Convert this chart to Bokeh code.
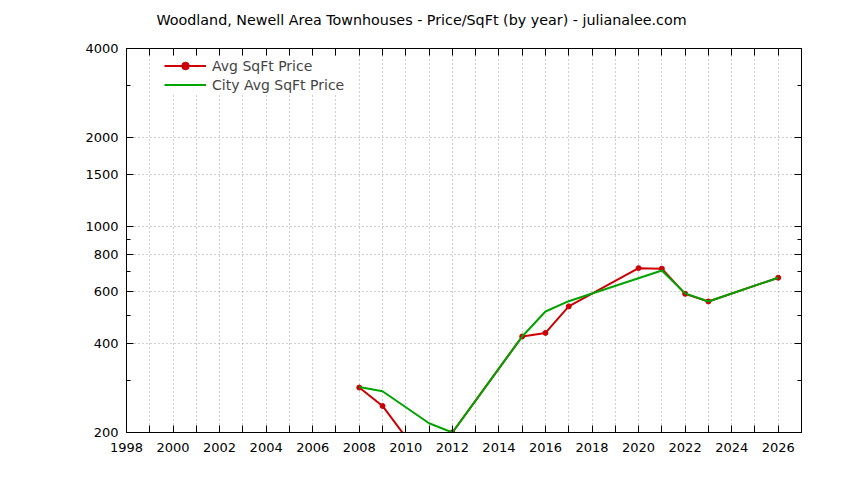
from bokeh.plotting import figure
from bokeh.models import (FixedTicker, PrintfTickFormatter, LinearAxis, LogAxis,
                          Legend, LegendItem, ColumnDataSource, CustomLabelingPolicy)
from bokeh.embed import file_html
from bokeh.resources import INLINE

# ---- data ----
title_text = "Woodland, Newell Area Townhouses - Price/SqFt (by year) - julianalee.com"
avg_years = [2008, 2009, 2010, 2012, 2015, 2016, 2017, 2020, 2021, 2022, 2023, 2026]
avg_price = [284, 246, 193, 200, 423, 435, 535, 721, 718, 590, 556, 669]
city_years = [2008, 2009, 2011, 2012, 2015, 2016, 2017, 2021, 2022, 2023, 2026]
city_price = [285, 276, 215, 200, 423, 514, 557, 708, 592, 556, 669]
x_major = list(range(1998, 2027, 2))
x_minor = list(range(1999, 2028, 2))
y_major = [200, 400, 600, 800, 1000, 1500, 2000, 4000]
y_minor = [300, 500, 700, 900, 3000]

FONT = "DejaVu Sans"
RED = "#cc0000"
GREEN = "#00a400"
GRID = "#a0a0a0"

p = figure(width=836, height=480, y_axis_type="log",
           x_range=(1998, 2027), y_range=(200, 4000),
           output_backend="svg", toolbar_location=None,
           min_border_left=126, min_border_right=35,
           min_border_top=56, min_border_bottom=40)
p.styles = {"margin-top": "-8px"}

p.title.text = title_text
p.title.text_font = FONT
p.title.text_font_size = "14.3px"
p.title.text_font_style = "normal"
p.title.text_color = "black"
p.title.align = "left"
p.title.offset = 30
p.title.standoff = 34

p.outline_line_color = "black"
p.outline_line_width = 1

hide_all = CustomLabelingPolicy(code="""
const n = indices.size;
for (let i = 0; i < n; i++) { indices.set(i, false) }
return indices
""")

def style_axis(ax, labels=True):
    ax.axis_line_color = "black"
    ax.major_tick_in = 7
    ax.major_tick_out = 0
    ax.minor_tick_in = 4
    ax.minor_tick_out = 0
    ax.major_tick_line_color = "black"
    ax.minor_tick_line_color = "black"
    ax.major_label_text_font = FONT
    ax.major_label_text_font_size = "13px" if labels else "1px"
    ax.major_label_text_color = "black"
    if not labels:
        ax.major_label_policy = hide_all
        ax.major_label_standoff = 0

xt = FixedTicker(ticks=x_major, minor_ticks=x_minor)
yt = FixedTicker(ticks=y_major, minor_ticks=y_minor)

p.xaxis.ticker = xt
p.yaxis.ticker = yt
p.yaxis.formatter = PrintfTickFormatter(format="%d")
for ax in p.xaxis:
    style_axis(ax)
    ax.minor_tick_in = 7
    ax.major_label_standoff = 10
for ax in p.yaxis:
    style_axis(ax)
    ax.major_label_standoff = 8

top_ax = LinearAxis(ticker=FixedTicker(ticks=x_major, minor_ticks=x_minor))
style_axis(top_ax, labels=False)
top_ax.minor_tick_in = 7
p.add_layout(top_ax, "above")

right_ax = LogAxis(ticker=FixedTicker(ticks=y_major, minor_ticks=y_minor),
                   formatter=PrintfTickFormatter(format="%d"))
style_axis(right_ax, labels=False)
p.add_layout(right_ax, "right")

p.xgrid.ticker = xt
p.ygrid.ticker = yt
p.xgrid.grid_line_color = GRID
p.xgrid.grid_line_dash = "1 3"
p.xgrid.minor_grid_line_color = GRID
p.xgrid.minor_grid_line_dash = "1 3"
p.ygrid.grid_line_color = GRID
p.ygrid.grid_line_dash = "1 3"

src_avg = ColumnDataSource(dict(x=avg_years, y=avg_price))
src_city = ColumnDataSource(dict(x=city_years, y=city_price))

r_avg_line = p.line("x", "y", source=src_avg, line_color=RED, line_width=2)
r_avg_pts = p.scatter("x", "y", source=src_avg, size=5, fill_color=RED, line_color=RED)
r_city = p.line("x", "y", source=src_city, line_color=GREEN, line_width=2)

legend = Legend(items=[LegendItem(label="Avg SqFt Price", renderers=[r_avg_line, r_avg_pts]),
                       LegendItem(label="City Avg SqFt Price", renderers=[r_city])],
                location=(38, 338))
legend.border_line_color = None
legend.background_fill_color = "white"
legend.background_fill_alpha = 1
legend.label_text_font = FONT
legend.label_text_font_size = "14px"
legend.glyph_width = 42
legend.glyph_height = 19
legend.label_height = 19
legend.spacing = 0
legend.padding = 4
legend.label_standoff = 6
p.add_layout(legend)

open("out.html", "w").write(file_html(p, INLINE))
